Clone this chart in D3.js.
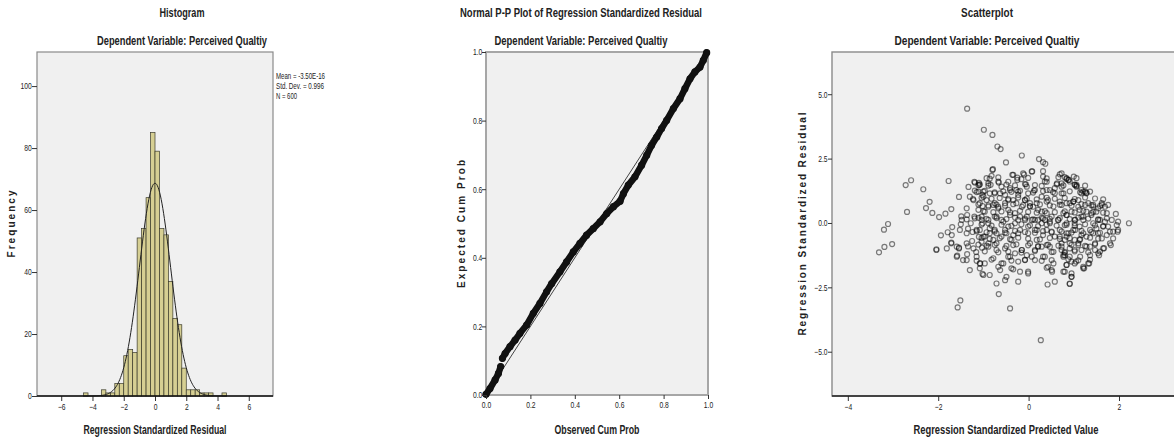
<!DOCTYPE html>
<html>
<head>
<meta charset="utf-8">
<script src="https://cdn.jsdelivr.net/npm/d3@7"></script>
<style>
  body { margin: 0; background: #fff; }
  svg text { font-family: "Liberation Sans", Arial, sans-serif; fill: #222; }
</style>
</head>
<body>
<div id="chart"></div>
<script>
// Histogram data (bins of width 2/7, first bin starts at -4.571)
const histBinStart = -4.571;
const histBinWidth = 0.2857;
const histCounts = [1, 0, 0, 0, 2, 1, 1, 4, 4, 13, 15, 14, 51, 54, 64, 85,
                    79, 54, 52, 37, 25, 23, 9, 2, 2, 2, 1, 1, 1, 0, 0, 1];
const histMean = -3.50e-16;
const histSD = 0.996;
const histN = 600;
const histXTicks = [-6, -4, -2, 0, 2, 4, 6];
const histYTicks = [0, 20, 40, 60, 80, 100];
const histStats = ['Mean = -3.50E-16', 'Std. Dev. = 0.996', 'N = 600'];

// P-P plot points read along the band
const ppObserved = [0.000, 0.018, 0.041, 0.056, 0.066, 0.074, 0.086, 0.108, 0.131, 0.153,
                    0.183, 0.213, 0.243, 0.273, 0.296, 0.333, 0.363, 0.393, 0.423, 0.453,
                    0.483, 0.514, 0.544, 0.574, 0.604, 0.619, 0.641, 0.671, 0.701, 0.724,
                    0.746, 0.769, 0.791, 0.814, 0.844, 0.874, 0.896, 0.919, 0.941, 0.964,
                    0.979, 0.994];
const ppExpected = [0.002, 0.019, 0.044, 0.063, 0.083, 0.107, 0.121, 0.141, 0.160, 0.180,
                    0.204, 0.238, 0.267, 0.301, 0.325, 0.359, 0.388, 0.417, 0.442, 0.466,
                    0.485, 0.505, 0.529, 0.549, 0.565, 0.587, 0.612, 0.636, 0.670, 0.699,
                    0.728, 0.752, 0.777, 0.801, 0.835, 0.864, 0.893, 0.922, 0.942, 0.956,
                    0.976, 0.998];
const ppBreak = 5; // the band jumps between these points
const ppTicks = [0, 0.2, 0.4, 0.6, 0.8, 1.0];

// Scatterplot: [standardized predicted, standardized residual]
const scatterPoints = [
  [-1.36, 4.44], [-0.99, 3.62], [-0.80, 3.42], [-2.72, 1.47], [-2.60, 1.66], [-2.33, 1.31], [-1.77, 1.63],
  [-2.69, 0.43], [-2.19, 0.82], [-2.27, 0.58], [-2.13, 0.39], [-1.98, 0.23], [-1.84, 0.36], [-1.71, 0.54],
  [-1.54, 1.01], [-1.33, 1.40], [-1.20, 1.60], [-1.11, 1.47], [-1.23, 0.93], [-3.11, -0.04], [-3.20, -0.26],
  [-3.31, -1.14], [-3.19, -0.93], [-3.02, -0.82], [-2.04, -1.05], [-2.04, -1.02], [-1.94, -0.48], [-1.79, -0.36],
  [-1.69, -0.16], [-1.70, -0.47], [-1.71, -0.79], [-1.71, -0.76], [-1.49, 0.26], [-1.50, -0.05], [-1.37, 0.14],
  [-1.34, -0.22], [-1.28, -0.01], [-1.20, 0.25], [-1.24, -0.35], [-1.54, -0.99], [-1.54, -0.96], [-1.58, -1.27],
  [-1.45, -1.44], [-1.34, -0.91], [-1.36, -1.21], [-1.25, -0.70], [-1.16, -1.13], [-1.15, -1.47], [-1.07, -1.57],
  [-1.02, -1.98], [-1.10, -0.54], [-1.03, -0.96], [-1.51, -3.01], [-1.57, -3.28], [-1.11, 0.51], [-1.19, 1.26],
  [-1.02, 0.66], [-1.02, -0.01], [-1.00, 1.02], [0.27, -4.55],
  [-0.69, 2.97], [-0.62, 2.87], [-0.15, 2.62], [-0.50, 2.35], [0.23, 2.48], [0.32, 2.36], [0.37, 2.30],
  [0.32, 2.01], [0.07, 2.00], [-0.79, 2.09], [-0.82, 1.83], [-0.89, 1.54], [-0.66, 1.57], [-0.36, 1.87],
  [-0.25, 1.76], [-0.10, 1.88], [-0.06, 1.50], [-0.45, 1.60], [0.69, 1.89], [0.80, 1.78], [0.88, 1.67],
  [0.40, 1.60], [0.63, 1.54], [1.02, 1.48], [-1.10, 1.56], [-1.11, 1.22], [-1.02, 1.09], [-0.86, 1.15],
  [-0.75, 0.77], [-0.67, 0.63], [-0.52, 1.09], [-0.41, 1.28], [-0.27, 1.28], [-0.23, 1.09], [-0.08, 0.89],
  [0.03, 0.77], [0.14, 1.28], [0.10, 0.63], [0.21, 0.51], [0.29, 0.44], [0.40, 0.38], [0.43, 0.89],
  [0.58, 1.15], [0.73, 1.15], [0.69, 0.83], [0.51, 0.25], [0.65, 0.12], [0.84, 0.31], [0.99, 0.83],
  [1.10, 0.63], [1.17, 0.25], [1.02, -0.01], [0.80, -0.08], [0.88, -0.40], [1.02, -0.66], [1.10, -0.86],
  [0.80, -0.66], [0.73, -1.05], [0.80, -1.25], [0.84, -1.63], [1.02, -1.57], [0.95, -2.09], [0.91, -2.35],
  [0.58, -2.28], [0.42, -2.39], [0.43, -1.70], [0.52, -1.89], [0.32, -1.31], [0.47, -0.92], [0.29, -0.92],
  [0.18, -0.66], [0.14, -0.27], [-0.01, -0.14], [-0.08, 0.12], [-0.19, 0.25], [-0.30, 0.38], [-0.45, 0.51],
  [-0.60, 0.12], [-0.75, 0.25], [-0.89, -0.01], [-1.04, 0.12], [-1.08, -0.27], [-0.97, -0.53], [-0.89, -0.79],
  [-0.78, -0.66], [-0.71, -1.05], [-0.60, -0.53], [-0.49, -0.40], [-0.38, -0.66], [-0.23, -0.40], [-0.15, -1.05],
  [-0.30, -1.18], [-0.45, -1.31], [-0.56, -1.57], [-0.63, -1.83], [-0.38, -1.76], [-0.08, -1.44], [-0.01, -1.89],
  [-0.23, -2.28], [-0.52, -2.22], [-0.71, -2.35], [-0.66, -2.76], [-1.00, -2.02], [-1.08, -1.57], [-0.41, -3.32],
  [0.14, -1.05], [0.07, -1.31], [0.51, -1.44], [0.69, -0.27], [0.58, -0.53], [0.40, -0.27], [0.29, -0.01],
  [0.36, 0.12], [0.47, -0.01], [0.21, 0.12], [0.07, 0.12], [-0.30, -0.01], [-0.45, -0.14], [-0.75, -0.27],
  [-0.86, -0.40], [-0.89, 0.63], [-0.97, 0.44], [-0.34, 0.89], [-0.52, 0.77], [-0.15, 0.63], [-0.75, 1.15],
  [-0.60, 1.41], [-0.01, 1.15], [0.29, 1.02], [0.47, 1.28], [1.17, 1.15], [1.21, -0.40], [1.17, -1.05],
  [1.21, -1.76],
  [2.22, -0.01], [1.93, 0.35], [1.98, 0.05], [1.97, -0.34], [1.87, -0.60], [1.82, -0.86], [1.69, 0.63],
  [1.62, 0.77], [1.58, 0.12], [1.65, -0.14], [1.62, -0.60], [1.67, -0.98], [1.56, -1.25], [1.47, -1.05],
  [1.36, -0.92], [1.34, -1.57], [1.23, -1.76], [1.05, -1.50], [0.95, -2.09], [0.91, -2.37], [0.80, -1.89],
  [0.84, -1.63], [0.77, -1.25], [0.91, -1.31], [1.02, -1.05], [1.13, -0.66], [1.28, -0.53], [1.43, -0.40],
  [1.50, -0.21], [1.43, -0.01], [1.39, 0.38], [1.28, 0.44], [1.50, 0.44], [1.73, 0.38], [1.76, -0.14],
  [1.80, -0.34], [1.21, 0.12], [1.13, -0.14], [1.02, 0.12], [0.99, -0.27], [0.84, -0.01], [0.84, -0.53],
  [0.91, -0.79], [0.73, -0.92], [0.80, -1.12], [0.77, 0.38], [0.84, 0.77], [0.99, 0.83], [0.95, 0.44],
  [1.13, 0.51], [1.32, 0.77], [1.43, 0.70], [1.06, 1.41], [1.21, 1.22], [1.28, 1.15], [0.91, 1.61],
  [0.84, 1.74], [0.73, 1.93], [0.73, 1.54], [0.77, 1.15], [1.06, 1.44], [1.25, 1.22],
  [-0.93, 1.74], [-0.80, 2.06], [-0.67, 1.61], [-0.34, 1.87], [-0.25, 1.67], [-0.12, 1.93], [0.08, 2.00],
  [0.32, 1.80], [0.89, 1.67], [1.00, 1.80], [-1.19, 1.57], [-1.09, 1.47], [-1.30, 1.02], [-1.00, 1.22],
  [-0.84, 1.48], [-0.63, 1.15], [-0.41, 1.35], [-0.23, 1.22], [-0.04, 1.41], [0.12, 1.26], [0.36, 1.61],
  [0.40, 1.28], [0.58, 1.35], [0.73, 1.41], [1.06, 1.48], [1.17, 1.28], [1.28, 1.18],
  [-1.37, 0.57], [-1.22, 0.89], [-1.08, 0.77], [-0.93, 0.89], [-0.78, 0.70], [-0.67, 0.57], [-0.45, 0.89],
  [-0.27, 0.77], [-0.08, 0.89], [0.03, 0.64], [0.18, 0.77], [0.40, 0.83], [0.55, 0.64], [0.73, 0.70],
  [0.91, 0.77], [1.10, 0.89], [1.25, 0.70], [1.43, 0.64], [1.54, 0.57], [1.62, 0.70],
  [-1.48, 0.12], [-1.36, 0.31], [-1.19, 0.18], [-1.04, 0.25], [-0.89, 0.12], [-0.71, 0.25], [-0.56, 0.05],
  [-0.41, 0.31], [-0.23, 0.12], [-0.04, 0.25], [0.14, 0.12], [0.32, 0.18], [0.47, 0.05], [0.66, 0.12],
  [0.84, 0.31], [1.03, 0.12], [1.21, 0.25], [1.39, 0.31], [1.54, 0.12], [1.69, 0.05], [1.84, 0.12],
  [1.95, -0.08],
  [-1.52, -0.27], [-1.37, -0.40], [-1.15, -0.27], [-1.00, -0.53], [-0.86, -0.21], [-0.71, -0.40], [-0.52, -0.27],
  [-0.34, -0.47], [-0.19, -0.27], [-0.01, -0.40], [0.18, -0.27], [0.32, -0.47], [0.51, -0.34], [0.69, -0.53],
  [0.84, -0.40], [1.03, -0.27], [1.17, -0.47], [1.36, -0.27], [1.54, -0.40], [1.73, -0.47], [1.87, -0.34],
  [1.98, -0.27],
  [-1.81, -0.99], [-1.59, -0.92], [-1.37, -0.79], [-1.22, -0.99], [-1.04, -0.73], [-0.89, -0.92], [-0.71, -0.79],
  [-0.52, -0.99], [-0.34, -0.86], [-0.15, -1.05], [0.03, -0.79], [0.21, -0.92], [0.40, -0.86], [0.55, -1.12],
  [0.73, -0.79], [0.91, -0.99], [1.10, -0.79], [1.28, -0.92], [1.47, -0.79], [1.65, -0.99], [1.80, -0.79],
  [-1.59, -1.31], [-1.37, -1.44], [-1.15, -1.31], [-0.97, -1.57], [-0.78, -1.37], [-0.60, -1.57], [-0.41, -1.31],
  [-0.23, -1.50], [-0.04, -1.25], [0.14, -1.44], [0.36, -1.31], [0.55, -1.57], [0.77, -1.31], [0.95, -1.50],
  [1.14, -1.31], [1.36, -1.25], [1.54, -1.18],
  [-1.30, -1.83], [-1.08, -1.76], [-0.86, -2.02], [-0.67, -1.70], [-0.49, -2.09], [-0.34, -1.80], [-0.19, -1.89],
  [-0.01, -1.96], [0.40, -1.74], [0.51, -1.83], [0.77, -1.89], [0.95, -1.96], [1.21, -1.70], [1.32, -1.57],
  // dense core, read row by row
  [-0.86, 1.72], [-0.67, 1.77], [-0.16, 1.70], [-0.01, 1.75], [0.40, 1.73], [0.66, 1.78], [0.84, 1.71], [1.06, 1.74],
  [-1.08, 1.50], [-0.89, 1.45], [-0.49, 1.49], [-0.30, 1.46], [-0.08, 1.51], [0.14, 1.47], [0.29, 1.44], [0.62, 1.50],
  [0.77, 1.46], [1.02, 1.49], [1.25, 1.45],
  [-1.15, 1.20], [-0.97, 1.25], [-0.75, 1.19], [-0.56, 1.23], [-0.38, 1.21], [-0.19, 1.25], [0.10, 1.18], [0.32, 1.24],
  [0.54, 1.20], [0.91, 1.23], [1.14, 1.19], [1.36, 1.22],
  [-1.04, 0.98], [-0.82, 0.94], [-0.64, 0.97], [-0.45, 0.93], [-0.23, 0.99], [-0.04, 0.95], [0.18, 0.92], [0.40, 0.98],
  [0.58, 0.94], [0.80, 0.97], [1.02, 0.93], [1.25, 0.99], [1.47, 0.95], [1.65, 0.92],
  [-1.11, 0.72], [-0.89, 0.68], [-0.71, 0.71], [-0.52, 0.67], [-0.34, 0.73], [-0.12, 0.69], [0.03, 0.66], [0.25, 0.72],
  [0.47, 0.68], [0.69, 0.71], [0.95, 0.67], [1.17, 0.73], [1.39, 0.69], [1.58, 0.66], [1.76, 0.70],
  [-1.00, 0.46], [-0.78, 0.42], [-0.60, 0.45], [-0.41, 0.41], [-0.19, 0.47], [-0.01, 0.43], [0.18, 0.40], [0.36, 0.46],
  [0.58, 0.42], [0.80, 0.45], [1.02, 0.41], [1.21, 0.47], [1.43, 0.43], [1.65, 0.40],
  [-1.11, 0.20], [-0.93, 0.16], [-0.71, 0.19], [-0.49, 0.15], [-0.30, 0.21], [-0.08, 0.17], [0.10, 0.14], [0.29, 0.20],
  [0.47, 0.16], [0.69, 0.19], [0.91, 0.15], [1.10, 0.21], [1.32, 0.17], [1.54, 0.14], [1.73, 0.18],
  [-1.04, -0.06], [-0.82, -0.10], [-0.60, -0.07], [-0.38, -0.11], [-0.16, -0.05], [0.03, -0.09], [0.21, -0.12], [0.40, -0.06],
  [0.62, -0.10], [0.84, -0.07], [1.02, -0.11], [1.25, -0.05], [1.47, -0.09], [1.65, -0.12],
  [-1.15, -0.32], [-0.93, -0.36], [-0.75, -0.33], [-0.52, -0.37], [-0.30, -0.31], [-0.08, -0.35], [0.14, -0.38], [0.32, -0.32],
  [0.51, -0.36], [0.73, -0.33], [0.95, -0.37], [1.17, -0.31], [1.39, -0.35], [1.58, -0.38],
  [-1.04, -0.58], [-0.86, -0.62], [-0.64, -0.59], [-0.41, -0.63], [-0.23, -0.57], [-0.01, -0.61], [0.25, -0.64], [0.47, -0.58],
  [0.69, -0.62], [0.91, -0.59], [1.14, -0.63], [1.36, -0.57], [1.54, -0.61],
  [-1.11, -0.84], [-0.93, -0.88], [-0.75, -0.85], [-0.49, -0.89], [-0.27, -0.83], [-0.01, -0.87], [0.21, -0.90], [0.43, -0.84],
  [0.66, -0.88], [0.95, -0.85], [1.25, -0.89], [1.47, -0.83],
  [-0.97, -1.10], [-0.67, -1.14], [-0.45, -1.11], [-0.16, -1.15], [0.14, -1.09], [0.51, -1.13], [0.80, -1.16], [1.02, -1.10],
  [1.32, -1.14], [1.58, -1.11],
  [-0.82, -1.42], [-0.38, -1.46], [-0.08, -1.43], [0.29, -1.47], [0.88, -1.41], [1.10, -1.45], [1.36, -1.43]
];
const scatterXTicks = [-4, -2, 0, 2];
const scatterYTicks = [-5, -2.5, 0, 2.5, 5];

const svg = d3.select('#chart').append('svg')
    .attr('width', 1174)
    .attr('height', 438);

// helper: panel background and border
function panel(x0, y0, x1, y1, borderColor, borderWidth) {
    svg.append('rect')
        .attr('x', x0).attr('y', y0)
        .attr('width', x1 - x0).attr('height', y1 - y0)
        .attr('fill', '#f0f0f0')
        .attr('stroke', borderColor)
        .attr('stroke-width', borderWidth);
}

// SPSS uses a condensed face; squeeze tick labels horizontally
function styleAxis(g) {
    g.select('.domain').remove();
    g.selectAll('.tick line').attr('stroke', '#333');
    g.selectAll('.tick text')
        .style('font-size', '9px')
        .attr('fill', '#333')
        .attr('transform', 'scale(0.75,1)');
}

// width = measured length of the text in the reference
function title(x, y, txt, width) {
    svg.append('text')
        .attr('x', x).attr('y', y)
        .attr('text-anchor', 'middle')
        .attr('textLength', width)
        .attr('lengthAdjust', 'spacingAndGlyphs')
        .style('font-size', '12.5px')
        .style('font-weight', 'bold')
        .text(txt);
}

// wide, letter-spaced vertical axis titles
function yLabel(x, y, txt, width) {
    svg.append('text')
        .attr('transform', `translate(${x},${y}) rotate(-90)`)
        .attr('text-anchor', 'middle')
        .attr('textLength', width)
        .attr('lengthAdjust', 'spacing')
        .style('font-size', '10px')
        .style('font-weight', 'bold')
        .text(txt);
}

// ---------- Histogram ----------
const hx = d3.scaleLinear().domain([-7.55, 7.55]).range([37, 273]);
const hy = d3.scaleLinear().domain([0, 111]).range([396, 52]);

panel(37, 52, 273, 396, '#8a8a8a', 1.2);

const bins = histCounts.map((c, i) => ({
    x0: histBinStart + i * histBinWidth,
    x1: histBinStart + (i + 1) * histBinWidth,
    count: c
})).filter(d => d.count > 0);

svg.append('g').selectAll('rect')
    .data(bins)
    .enter()
    .append('rect')
    .attr('x', d => hx(d.x0))
    .attr('y', d => hy(d.count))
    .attr('width', d => hx(d.x1) - hx(d.x0))
    .attr('height', d => hy(0) - hy(d.count))
    .attr('fill', '#d6cf93')
    .attr('stroke', '#3a3a2a')
    .attr('stroke-width', 0.7);

// fitted normal curve
const curveXs = d3.range(-4.6, 4.61, 0.05);
const normal = x => histN * histBinWidth / (histSD * Math.sqrt(2 * Math.PI)) *
    Math.exp(-0.5 * Math.pow((x - histMean) / histSD, 2));
svg.append('path')
    .datum(curveXs)
    .attr('fill', 'none')
    .attr('stroke', '#222')
    .attr('stroke-width', 1)
    .attr('d', d3.line().x(d => hx(d)).y(d => hy(normal(d))));

svg.append('g')
    .attr('transform', 'translate(37,0)')
    .call(d3.axisLeft(hy).tickValues(histYTicks).tickSize(5).tickPadding(2))
    .call(styleAxis);

svg.append('g')
    .attr('transform', 'translate(0,396)')
    .call(d3.axisBottom(hx).tickValues(histXTicks).tickSize(5).tickPadding(3))
    .call(styleAxis);

svg.append('line')
    .attr('x1', 37).attr('x2', 273).attr('y1', 396).attr('y2', 396)
    .attr('stroke', '#111').attr('stroke-width', 1.4);

const statWidths = [49, 48, 21];
svg.append('g').selectAll('text')
    .data(histStats)
    .enter()
    .append('text')
    .attr('x', 276)
    .attr('y', (d, i) => 79 + i * 10)
    .attr('textLength', (d, i) => statWidths[i])
    .attr('lengthAdjust', 'spacingAndGlyphs')
    .style('font-size', '8.5px')
    .text(d => d);

title(182, 17, 'Histogram', 45);
title(182, 45, 'Dependent Variable: Perceived Qualtiy', 170);
title(155, 434, 'Regression Standardized Residual', 143);
yLabel(15, 224, 'Frequency', 67);

// ---------- Normal P-P Plot ----------
const px = d3.scaleLinear().domain([0, 1]).range([486, 708]);
const py = d3.scaleLinear().domain([0, 1]).range([395, 52]);

panel(486, 52, 708, 395, '#a6a6a6', 2);

svg.append('line')
    .attr('x1', px(0)).attr('y1', py(0))
    .attr('x2', px(1)).attr('y2', py(1))
    .attr('stroke', '#444').attr('stroke-width', 1);

const ppPoints = ppObserved.map((o, i) => [o, ppExpected[i]]);
const ppLine = d3.line().x(d => px(d[0])).y(d => py(d[1]));
[ppPoints.slice(0, ppBreak), ppPoints.slice(ppBreak)].forEach(seg => {
    svg.append('path')
        .datum(seg)
        .attr('fill', 'none')
        .attr('stroke', '#111')
        .attr('stroke-width', 6.5)
        .attr('stroke-linecap', 'round')
        .attr('stroke-linejoin', 'round')
        .attr('d', ppLine);
});
svg.append('g').selectAll('circle')
    .data(ppPoints)
    .enter()
    .append('circle')
    .attr('cx', d => px(d[0]))
    .attr('cy', d => py(d[1]))
    .attr('r', 3)
    .attr('fill', 'none')
    .attr('stroke', '#111')
    .attr('stroke-width', 1.2);

svg.append('g')
    .attr('transform', 'translate(486,0)')
    .call(d3.axisLeft(py).tickValues(ppTicks).tickFormat(d3.format('.1f')).tickSize(4).tickPadding(1))
    .call(styleAxis);

svg.append('g')
    .attr('transform', 'translate(0,395)')
    .call(d3.axisBottom(px).tickValues(ppTicks).tickFormat(d3.format('.1f')).tickSize(4).tickPadding(3))
    .call(styleAxis);

title(581, 17, 'Normal P-P Plot of Regression Standardized Residual', 242);
title(581, 45, 'Dependent Variable: Perceived Qualtiy', 173);
title(597, 434, 'Observed Cum Prob', 85);
yLabel(465, 224, 'Expected Cum Prob', 128);

// ---------- Scatterplot ----------
const sx = d3.scaleLinear().domain([-4.35, 3.35]).range([832, 1180]);
const sy = d3.scaleLinear().domain([-6.72, 6.64]).range([396, 52]);

panel(832, 52, 1180, 396, '#8a8a8a', 1.4);

svg.append('g').selectAll('circle')
    .data(scatterPoints)
    .enter()
    .append('circle')
    .attr('cx', d => sx(d[0]))
    .attr('cy', d => sy(d[1]))
    .attr('r', 2.5)
    .attr('fill', 'none')
    .attr('stroke', '#000')
    .attr('stroke-opacity', 0.5)
    .attr('stroke-width', 1.2);

svg.append('g')
    .attr('transform', 'translate(832,0)')
    .call(d3.axisLeft(sy).tickValues(scatterYTicks).tickFormat(d3.format('.1f')).tickSize(4).tickPadding(2))
    .call(styleAxis);

svg.append('g')
    .attr('transform', 'translate(0,396)')
    .call(d3.axisBottom(sx).tickValues(scatterXTicks).tickSize(5).tickPadding(3))
    .call(styleAxis);

svg.append('line')
    .attr('x1', 832).attr('x2', 1180).attr('y1', 396).attr('y2', 396)
    .attr('stroke', '#222').attr('stroke-width', 1.4);

title(987, 17, 'Scatterplot', 52);
title(987, 45, 'Dependent Variable: Perceived Qualtiy', 185);
title(1006, 434, 'Regression Standardized Predicted Value', 185);
yLabel(806, 224, 'Regression Standardized Residual', 223);
</script>
</body>
</html>
